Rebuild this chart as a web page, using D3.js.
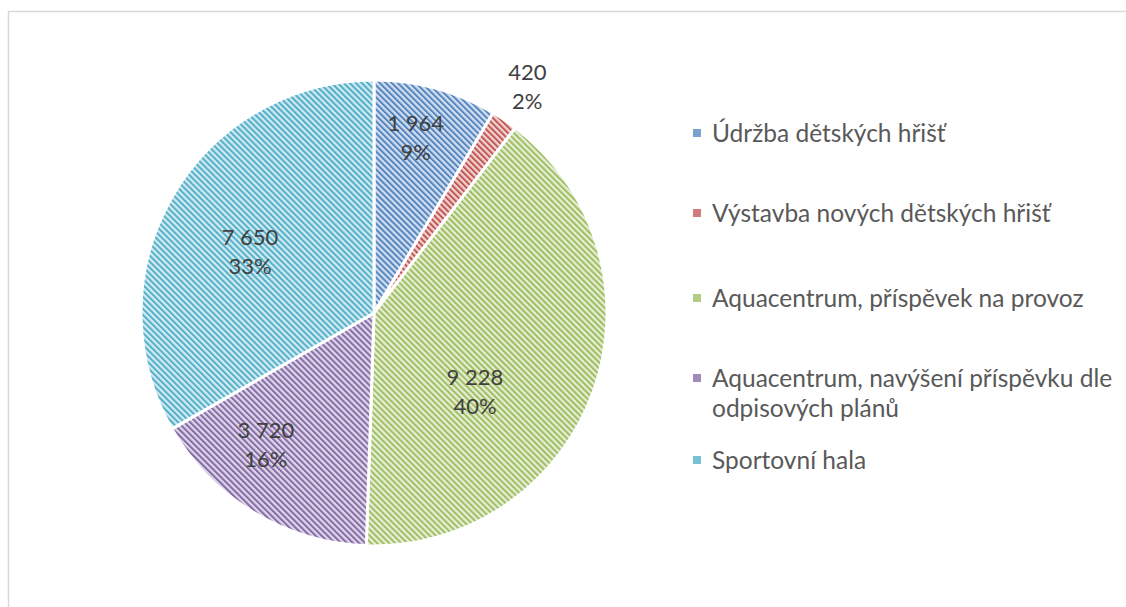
<!DOCTYPE html>
<html><head><meta charset="utf-8">
<script src="https://cdn.jsdelivr.net/npm/d3@7"></script>
<style>
html,body{margin:0;padding:0;background:#fff;}
svg{display:block;}
</style></head>
<body>
<script>
// ---- data ----
const categories = [
  "Údržba dětských hřišť",
  "Výstavba nových dětských hřišť",
  "Aquacentrum, příspěvek na provoz",
  "Aquacentrum, navýšení příspěvku dle odpisových plánů",
  "Sportovní hala"
];
const legendLines = [
  ["Údržba dětských hřišť"],
  ["Výstavba nových dětských hřišť"],
  ["Aquacentrum, příspěvek na provoz"],
  ["Aquacentrum, navýšení příspěvku dle", "odpisových plánů"],
  ["Sportovní hala"]
];
const values = [1964, 420, 9228, 3720, 7650];
const valueLabels = ["1 964", "420", "9 228", "3 720", "7 650"];
const percentLabels = ["9%", "2%", "40%", "16%", "33%"];

// ---- style / layout ----
const colors = ["#4f81bd", "#c0504d", "#9bbb59", "#8064a2", "#4bacc6"];
const tints  = ["#d3dff0", "#f0d3d2", "#e5eed6", "#ddd6e8", "#d2eaf1"];
const labelRadius = [0.775, 1.175, 0.55, 0.732, 0.593];   // fraction of radius
const labelAngleShift = [-2, 0, 18.4, 8.3, -3.9];          // degrees
const legendY = [133, 213, 298, 378, 460];

const W = 1126, H = 607;
const cx = 374, cy = 313, R = 233;

const svg = d3.select("body").append("svg").attr("width", W).attr("height", H);

// frame
svg.append("path")
  .attr("d", `M8.5,${H+2} L8.5,11.5 L${W+2},11.5`)
  .attr("fill", "none").attr("stroke", "#d9d9d9").attr("stroke-width", 1.5);

// patterns
const defs = svg.append("defs");
colors.forEach((c, i) => {
  const p = defs.append("pattern")
    .attr("id", "pat" + i)
    .attr("patternUnits", "userSpaceOnUse")
    .attr("width", 4.25).attr("height", 4.25)
    .attr("patternTransform", "rotate(-45)");
  p.append("rect").attr("width", 4.25).attr("height", 4.25).attr("fill", tints[i]);
  p.append("rect").attr("x", 0).attr("y", 0).attr("width", 2).attr("height", 4.25)
    .attr("fill", c).attr("opacity", 0.95);
});

const pie = d3.pie().sort(null).value(d => d)(values);
const arc = d3.arc().innerRadius(0).outerRadius(R);

const g = svg.append("g").attr("transform", `translate(${cx},${cy})`);
g.selectAll("path.slice").data(pie).join("path")
  .attr("class", "slice")
  .attr("d", arc)
  .attr("fill", (d, i) => `url(#pat${i})`)
  .attr("stroke", "#fff").attr("stroke-width", 3).attr("stroke-linejoin", "round");

// labels
const font = "Lato, 'Open Sans', sans-serif";
pie.forEach((d, i) => {
  const a = (d.startAngle + d.endAngle) / 2 + labelAngleShift[i] * Math.PI / 180;
  const r = R * labelRadius[i];
  const x = Math.sin(a) * r, y = -Math.cos(a) * r;
  [valueLabels[i], percentLabels[i]].forEach((txt, j) => {
    g.append("text")
      .attr("x", x).attr("y", y + (j === 0 ? -14.5 : 14.5))
      .attr("dy", "0.36em")
      .attr("text-anchor", "middle")
      .attr("font-family", font).attr("font-size", 22)
      .attr("fill", "#404040")
      .text(txt);
  });
});

// legend
const lg = svg.append("g");
legendLines.forEach((lines, i) => {
  const y = legendY[i];
  lg.append("rect").attr("x", 693).attr("y", y - 4).attr("width", 8).attr("height", 8)
    .attr("fill", colors[i]).attr("opacity", 0.75);
  lines.forEach((ln, j) => {
    lg.append("text")
      .attr("x", 712).attr("y", y + j * 30)
      .attr("dy", "0.36em")
      .attr("font-family", font).attr("font-size", 24.5)
      .attr("fill", "#595959")
      .text(ln);
  });
});
</script>
</body></html>
